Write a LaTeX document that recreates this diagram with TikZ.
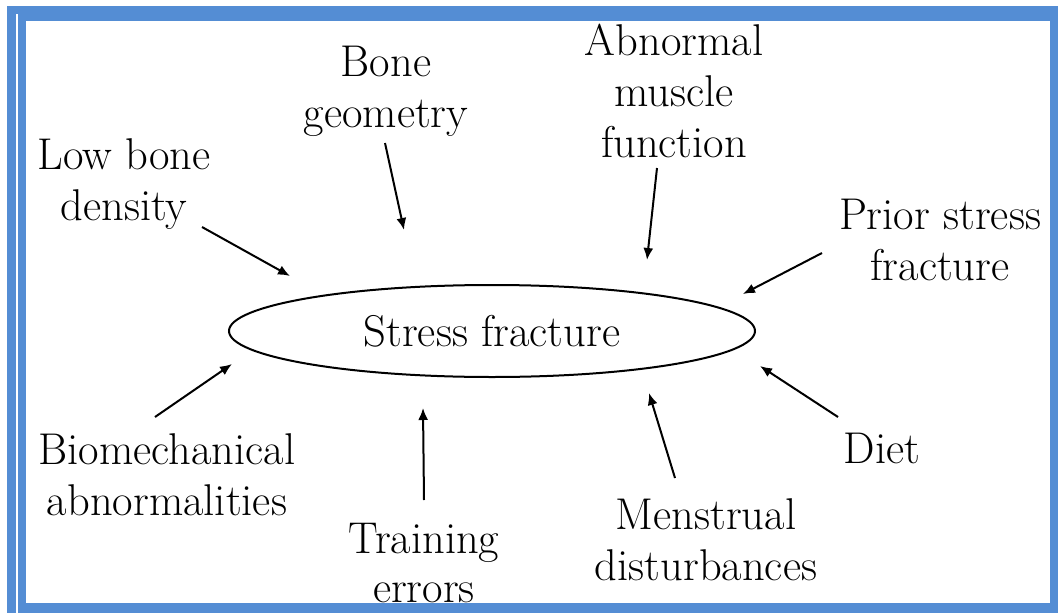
\documentclass[tikz,border=0pt]{standalone}
\usepackage{tikz}
\usetikzlibrary{arrows.meta,shapes.geometric}
\definecolor{frameblue}{RGB}{84,141,212}

\tikzset{
  lbl/.style={font=\fontsize{44.5}{51}\selectfont, align=center, inner sep=0pt, anchor=base},
  arr/.style={-{Latex[length=12pt,width=10pt]}, line width=2pt},
}

\begin{document}
\begin{tikzpicture}[x=1pt,y=-1pt]
    \useasboundingbox (0,0) rectangle (1058,613);
    % blue frame
    \fill[frameblue] (7,6) rectangle (1058,613);
    \fill[white] (16,14) rectangle (18,613);
    \fill[white] (26,21) rectangle (1050,603);

    % central ellipse
    \node[draw, ellipse, line width=2pt, minimum width=526pt, minimum height=92pt,
          inner sep=0pt, font=\fontsize{44.5}{51}\selectfont] (fracture) at (492,331) {Stress fracture};

    % risk factors (anchored on the last line)
    \node[lbl] (lowbone) at (124,220) {Low bone\\density};
    \node[lbl] (geom) at (386,127) {Bone\\geometry};
    \node[lbl] (muscle) at (674,157) {Abnormal\\muscle\\function};
    \node[lbl] (prior) at (940,280) {Prior stress\\fracture};
    \node[lbl] (diet) at (882,463) {Diet};
    \node[lbl] (menstrual) at (706,580) {Menstrual\\disturbances};
    \node[lbl, font=\fontsize{44.5}{49}\selectfont] (training) at (424,602) {Training\\errors};
    \node[lbl] (biomech) at (167,515) {Biomechanical\\abnormalities};

    % arrow ends
    \coordinate (lowbone-a) at (202,227);   \coordinate (lowbone-b) at (290,276);
    \coordinate (geom-a) at (385,143);      \coordinate (geom-b) at (404,230);
    \coordinate (muscle-a) at (657,168);    \coordinate (muscle-b) at (647,260);
    \coordinate (prior-a) at (822,253);     \coordinate (prior-b) at (743,294);
    \coordinate (diet-a) at (838,417);      \coordinate (diet-b) at (760,366);
    \coordinate (menstrual-a) at (675,478); \coordinate (menstrual-b) at (649,393);
    \coordinate (training-a) at (424,500);  \coordinate (training-b) at (423,408);
    \coordinate (biomech-a) at (155,417);   \coordinate (biomech-b) at (232,364);

    \foreach \n in {lowbone,geom,muscle,prior,diet,menstrual,training,biomech}
      \draw[arr] (\n-a) -- (\n-b);
\end{tikzpicture}
\end{document}
